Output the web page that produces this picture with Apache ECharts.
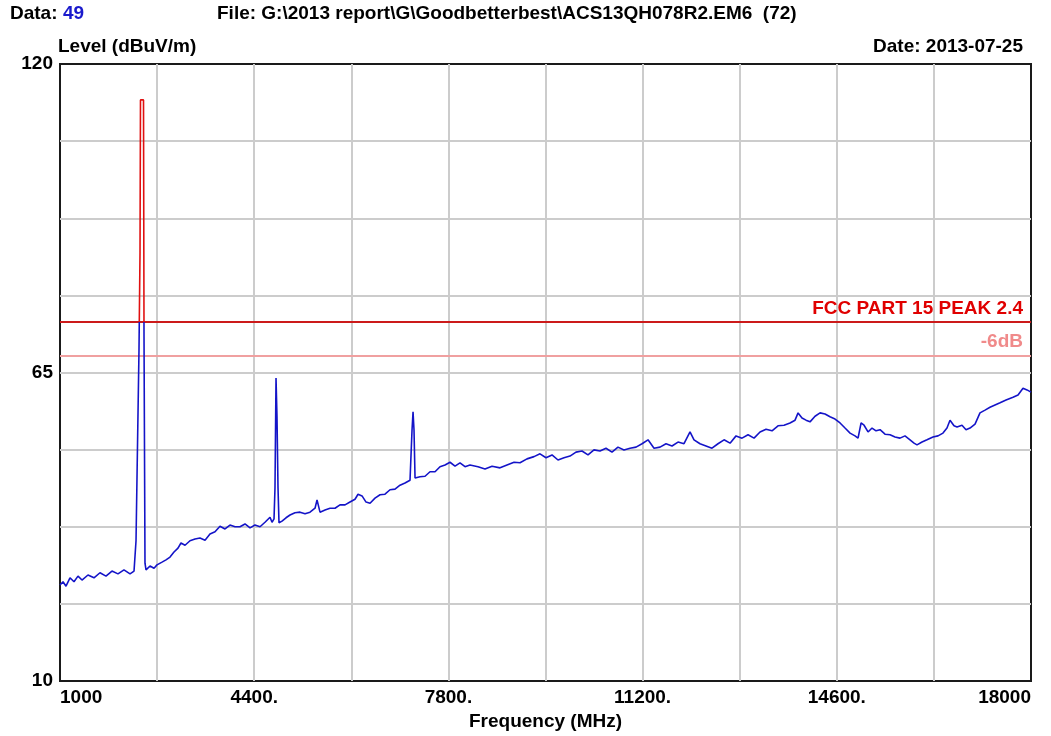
<!DOCTYPE html>
<html>
<head>
<meta charset="utf-8">
<script src="https://cdn.jsdelivr.net/npm/echarts@6/dist/echarts.min.js"></script>
<style>
  html, body { margin: 0; padding: 0; background: #fff; }
  #chart { width: 1051px; height: 736px; }
</style>
</head>
<body>
<div id="chart"></div>
<script>
var freqMHz = [
  1000,1053,1105,1175,1245,1315,1385,1490,1595,1700,1805,1910,2015,2120,2226,2296,2331,2366,
  2383,2401,2409,2462,2471,2488,2506,2576,2646,2698,2786,2856,2926,2996,3066,3118,3189,3276,
  3364,3451,3539,3626,3714,3801,3889,3976,4064,4151,4239,4327,4414,4502,4589,4677,4712,4747,
  4764,4782,4799,4817,4834,4887,4957,5027,5114,5202,5290,5377,5465,5500,5552,5640,5727,5815,
  5902,5990,6077,6165,6218,6288,6358,6428,6515,6603,6690,6778,6865,6953,7040,7128,7163,7181,
  7198,7216,7303,7391,7478,7566,7653,7741,7828,7916,8003,8091,8178,8318,8441,8564,8704,8826,
  8949,9054,9176,9299,9404,9509,9614,9719,9824,9929,10034,10139,10244,10349,10454,10559,10664,10769,
  10874,10980,11085,11190,11295,11400,11505,11610,11715,11820,11925,12030,12100,12205,12310,12415,12520,12626,
  12731,12836,12941,13046,13151,13256,13361,13466,13571,13676,13781,13869,13922,13991,14061,14131,14219,14307,
  14394,14481,14569,14657,14744,14832,14919,14972,15025,15077,15147,15217,15287,15357,15444,15532,15619,15707,
  15794,15882,15952,16004,16092,16179,16284,16372,16459,16529,16582,16652,16705,16792,16862,16932,17020,17107,
  17195,17282,17370,17458,17563,17685,17773,17860,17930,18000
];
var levelDb = [
  27.1,27.7,26.9,28.4,27.7,28.7,28.0,28.9,28.4,29.3,28.7,29.6,29.1,29.8,29.1,29.6,35.0,35.0,
  69.0,86.5,113.6,113.6,71.3,31.0,29.8,30.5,30.1,30.7,31.2,31.6,32.1,33.0,33.7,34.6,34.2,35.0,
  35.3,35.5,35.1,36.2,36.6,37.6,37.1,37.8,37.5,37.5,38.0,37.3,37.8,37.5,38.3,39.2,38.3,38.9,
  44.4,64.0,57.1,44.4,38.2,38.5,39.1,39.6,40.0,40.1,39.8,40.1,40.8,42.3,40.1,40.5,40.8,40.8,
  41.4,41.4,41.9,42.4,43.3,43.0,41.9,41.7,42.6,43.2,43.3,44.1,44.2,44.9,45.3,45.8,54.7,58.0,
  54.7,46.2,46.4,46.5,47.3,47.3,48.2,48.5,49.0,48.3,48.9,48.2,48.5,48.2,47.8,48.3,48.0,48.5,
  49.0,48.9,49.6,50.0,50.5,49.8,50.3,49.4,49.8,50.1,50.8,51.0,50.3,51.2,51.0,51.5,50.8,51.7,
  51.2,51.5,51.7,52.3,53.0,51.5,51.7,52.3,51.9,52.6,52.3,54.4,53.0,52.3,51.9,51.5,52.3,53.0,
  52.4,53.7,53.3,53.9,53.3,54.4,54.9,54.6,55.5,55.6,56.0,56.5,57.8,56.9,56.5,56.2,57.2,57.8,
  57.6,57.1,56.7,56.0,55.1,54.2,53.7,53.3,56.0,55.6,54.4,55.1,54.6,54.8,54.0,53.9,53.5,53.3,
  53.7,53.0,52.4,52.1,52.6,53.0,53.5,53.7,54.2,55.1,56.5,55.5,55.3,55.6,54.8,55.1,55.8,57.8,
  58.3,58.8,59.2,59.6,60.1,60.6,61.0,62.2,61.9,61.5
];
var xTicks = [1000, 4400, 7800, 11200, 14600, 18000];
var yTicks = [10, 65, 120];
var fccLimit = 74;
var marginLine = 68;

var myChart = echarts.init(document.getElementById('chart'));
var font = '"Liberation Sans", Arial, sans-serif';

var traceData = freqMHz.map(function (f, i) { return [f, levelDb[i]]; });

var option = {
  animation: false,
  backgroundColor: '#fff',
  textStyle: { fontFamily: font },
  grid: {
    left: 60, right: 20, top: 64, bottom: 55,
    outerBoundsMode: 'none',
    show: true, borderColor: '#1a1a1a', borderWidth: 2, backgroundColor: 'transparent'
  },
  graphic: [
    { type: 'text', left: 10, top: 4, style: { text: 'Data:', font: 'bold 19px ' + font, fill: '#000' } },
    { type: 'text', left: 63, top: 4, style: { text: '49', font: 'bold 19px ' + font, fill: '#1a1acc' } },
    { type: 'text', left: 217, top: 4, style: { text: 'File: G:\\2013 report\\G\\Goodbetterbest\\ACS13QH078R2.EM6  (72)', font: 'bold 19px ' + font, fill: '#000' } },
    { type: 'text', left: 58, top: 37, style: { text: 'Level (dBuV/m)', font: 'bold 19px ' + font, fill: '#000' } },
    { type: 'text', right: 28, top: 37, style: { text: 'Date: 2013-07-25', font: 'bold 19px ' + font, fill: '#000' } }
  ],
  visualMap: {
    show: false,
    type: 'piecewise',
    seriesIndex: 0,
    dimension: 1,
    pieces: [
      { lte: fccLimit, color: '#1414c8' },
      { gt: fccLimit, lte: 200, color: '#e01010' },
      { gt: 200, color: '#e01010' }
    ]
  },
  xAxis: [
    {
      type: 'value', min: 1000, max: 18000,
      axisLine: { show: false }, axisTick: { show: false },
      axisLabel: { show: false }, splitLine: { show: false }
    },
    {
      // grid/label axis, offset by the 1000 MHz start so ticks fall every 1700 MHz
      type: 'value', position: 'bottom', min: 0, max: 17000, interval: 1700,
      axisLine: { show: false }, axisTick: { show: false },
      splitLine: { show: true, showMinLine: false, showMaxLine: false, lineStyle: { color: '#cccccc', width: 2 } },
      axisLabel: {
        margin: 7,
        fontSize: 19, fontWeight: 'bold', color: '#000', fontFamily: font,
        alignMinLabel: 'left', alignMaxLabel: 'right',
        formatter: function (v) {
          var f = Math.round(v + 1000);
          if (xTicks.indexOf(f) < 0) return '';
          return (f === 1000 || f === 18000) ? String(f) : f + '.';
        }
      },
      name: 'Frequency (MHz)', nameLocation: 'middle', nameGap: 31,
      nameTextStyle: { fontSize: 19, fontWeight: 'bold', color: '#000', fontFamily: font }
    }
  ],
  yAxis: [
    {
      type: 'value', min: 10, max: 120,
      axisLine: { show: false }, axisTick: { show: false },
      axisLabel: { show: false }, splitLine: { show: false }
    },
    {
      type: 'value', position: 'left', min: 0, max: 110, interval: 13.75,
      axisLine: { show: false }, axisTick: { show: false },
      splitLine: { show: true, showMinLine: false, showMaxLine: false, lineStyle: { color: '#cccccc', width: 2 } },
      axisLabel: {
        margin: 7,
        fontSize: 19, fontWeight: 'bold', color: '#000', fontFamily: font,
        formatter: function (v) {
          var d = Math.round(v + 10);
          return yTicks.indexOf(d) >= 0 && Math.abs(v + 10 - d) < 0.01 ? String(d) : '';
        }
      }
    }
  ],
  series: [
    {
      name: 'Level',
      type: 'line',
      xAxisIndex: 0, yAxisIndex: 0,
      data: traceData,
      showSymbol: false,
      lineStyle: { width: 1.6 },
      z: 5,
      markLine: {
        silent: true,
        symbol: 'none',
        data: [
          {
            yAxis: fccLimit,
            lineStyle: { color: '#cc1a1a', width: 2, type: 'solid' },
            label: {
              show: true, position: 'insideEndTop', formatter: 'FCC PART 15 PEAK 2.4',
              color: '#e00000', fontSize: 19, fontWeight: 'bold', fontFamily: font, distance: [8, 4]
            }
          },
          {
            yAxis: marginLine,
            lineStyle: { color: '#f0a0a0', width: 2, type: 'solid' },
            label: {
              show: true, position: 'insideEndTop', formatter: '-6dB',
              color: '#f08a8a', fontSize: 19, fontWeight: 'bold', fontFamily: font, distance: [8, 4]
            }
          }
        ]
      }
    }
  ]
};
myChart.setOption(option, true);
</script>
</body>
</html>
